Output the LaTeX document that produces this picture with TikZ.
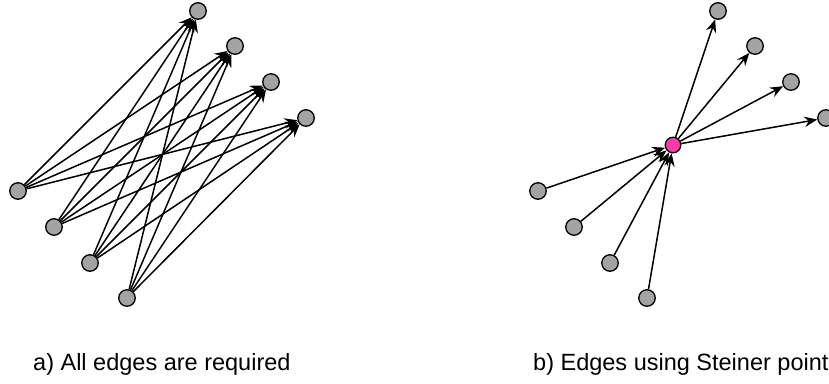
\documentclass[tikz,border=0pt]{standalone}
\usepackage{fontspec}
\setmainfont{Liberation Sans}
\usetikzlibrary{arrows.meta}
\definecolor{nodegray}{HTML}{A3A3A3}
\definecolor{steinerpink}{HTML}{FF3AAA}
\begin{document}
\begin{tikzpicture}[x=1pt,y=-1pt,
  vert/.style={circle,draw=black,line width=1.3pt,fill=nodegray,minimum size=16.5pt,inner sep=0pt},
  steiner/.style={circle,draw=black,line width=1.3pt,fill=steinerpink,minimum size=15.5pt,inner sep=0pt},
  edge/.style={line width=1.5pt,-{Stealth[length=13pt,width=10.5pt,inset=4.5pt]}},
  caption/.style={anchor=base west,inner sep=0pt,font=\fontsize{23.5}{28}\selectfont}]
\useasboundingbox (0,0) rectangle (829,383);
% left panel
\node[vert] (t1) at (198,11) {};
\node[vert] (t2) at (235,46) {};
\node[vert] (t3) at (271,82) {};
\node[vert] (t4) at (306,118) {};
\node[vert] (b1) at (18,191) {};
\node[vert] (b2) at (54,227) {};
\node[vert] (b3) at (90,263) {};
\node[vert] (b4) at (127,298) {};
\foreach \b in {b1,b2,b3,b4}
  \foreach \t in {t1,t2,t3,t4}
    \draw[edge] (\b) -- (\t);
% right panel
\node[vert] (r1) at (718,11) {};
\node[vert] (r2) at (755,46) {};
\node[vert] (r3) at (791,82) {};
\node[vert] (r4) at (826,118) {};
\node[vert] (l1) at (538,191) {};
\node[vert] (l2) at (574,227) {};
\node[vert] (l3) at (610,263) {};
\node[vert] (l4) at (647,298) {};
\node[steiner] (s) at (673,145) {};
\foreach \l in {l1,l2,l3,l4}
  \draw[edge] (\l) -- (s);
\foreach \r in {r1,r2,r3,r4}
  \draw[edge] (s) -- (\r);
% captions
\node[caption] (ca) at (33,370) {a) All edges are required};
\node[caption] (cb) at (533,370) {b) Edges using Steiner points};
\end{tikzpicture}
\end{document}
